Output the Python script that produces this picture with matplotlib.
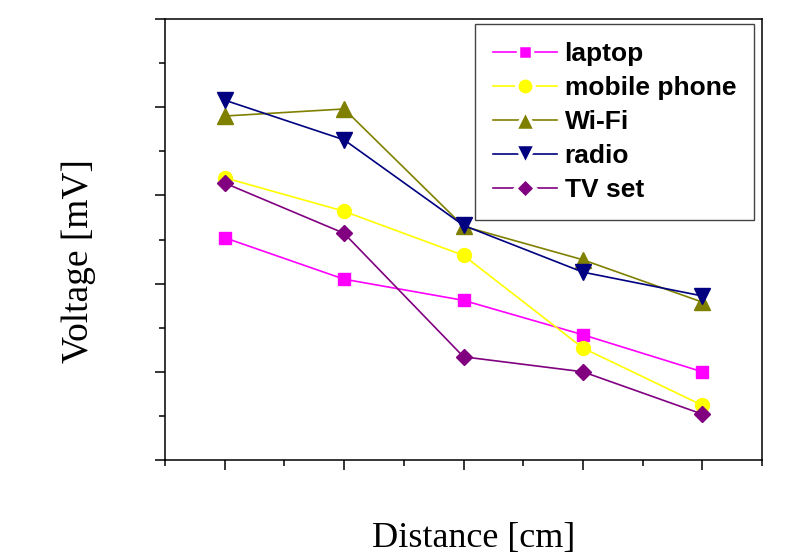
import matplotlib
matplotlib.use('Agg')
from matplotlib import pyplot as plt
from matplotlib.ticker import MultipleLocator

# Distance steps (arbitrary units) and measured voltages
distance = [1, 2, 3, 4, 5]
laptop = [2.52, 2.05, 1.81, 1.42, 1.00]
mobile_phone = [3.20, 2.82, 2.32, 1.27, 0.62]
wifi = [3.90, 3.98, 2.65, 2.27, 1.79]
radio = [4.08, 3.63, 2.66, 2.13, 1.86]
tv_set = [3.14, 2.57, 1.17, 1.00, 0.52]

series = [
    ('laptop', laptop, '#FF00FF', 's', 8.6),
    ('mobile phone', mobile_phone, '#FFFF00', 'o', 10),
    ('Wi-Fi', wifi, '#808000', '^', 12),
    ('radio', radio, '#000080', 'v', 12),
    ('TV set', tv_set, '#800080', 'D', 8.2),
]

fig = plt.figure(figsize=(7.89, 5.53), dpi=100)
ax = fig.add_axes([165 / 789, 1 - 460 / 553, (762 - 165) / 789, (460 - 19) / 553])

for name, vals, color, marker, ms in series:
    ax.plot(distance, vals, color=color, lw=1.2, marker=marker, ms=ms,
            mfc=color, mec=color, label=name)

ax.set_xlim(0.5, 5.5)
ax.set_ylim(0, 5)
ax.xaxis.set_major_locator(MultipleLocator(1))
ax.xaxis.set_minor_locator(MultipleLocator(0.5))
ax.yaxis.set_major_locator(MultipleLocator(1))
ax.yaxis.set_minor_locator(MultipleLocator(0.5))
ax.tick_params(which='both', direction='out', labelleft=False, labelbottom=False,
               width=1.1, color='black')
ax.tick_params(which='major', length=7)
ax.tick_params(which='minor', length=4)
for sp in ax.spines.values():
    sp.set_linewidth(1.1)

fig.text(474 / 789, 1 - 538 / 553, 'Distance [cm]', ha='center', va='center',
         fontsize=26, family='Liberation Serif')
fig.text(79 / 789, 1 - 261 / 553, 'Voltage [mV]', ha='center', va='center',
         rotation=90, fontsize=27, family='Liberation Serif')

leg = ax.legend(loc='upper right', bbox_to_anchor=(754 / 789, 1 - 24 / 553),
                bbox_transform=fig.transFigure, borderaxespad=0, fancybox=False,
                prop={'family': 'Liberation Sans', 'weight': 'bold', 'size': 19},
                handlelength=2.4, handletextpad=0.3, borderpad=0.68,
                labelspacing=0.38, framealpha=1)
leg.get_frame().set_edgecolor('#444444')
leg.get_frame().set_linewidth(1.0)
# white ring so the legend line breaks around each marker
for h in leg.legend_handles:
    h.set_markeredgecolor('white')
    h.set_markeredgewidth(2.5)
    h.set_markersize(h.get_markersize() * 1.25)

fig.savefig('out.png', dpi=100)
